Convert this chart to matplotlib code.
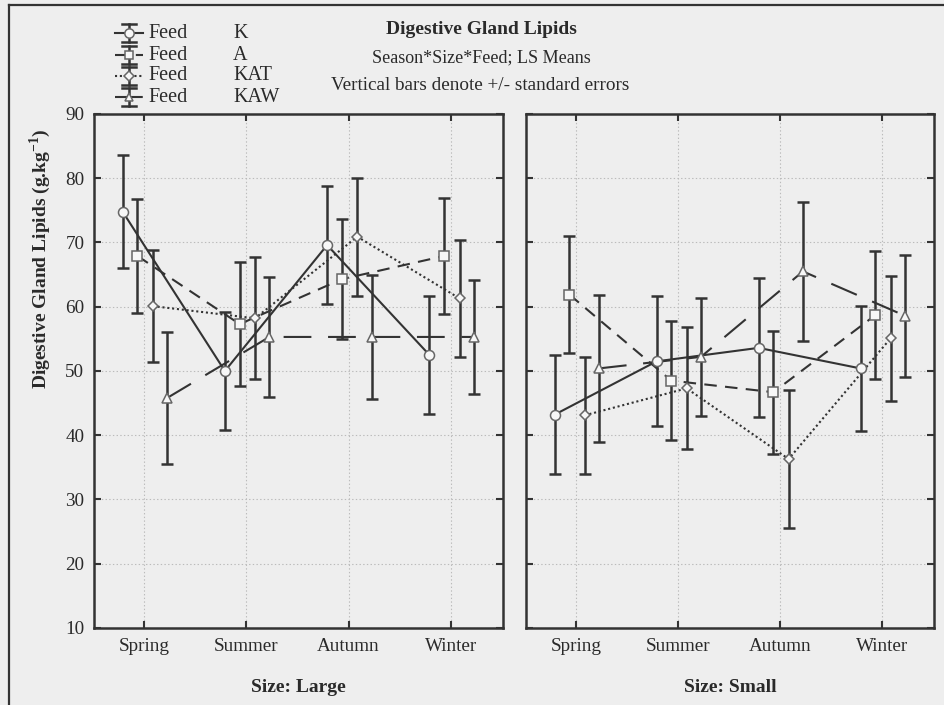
import numpy as np
import matplotlib
matplotlib.use('Agg')
import matplotlib.pyplot as plt

plt.rcParams['font.family'] = ['Liberation Serif', 'DejaVu Serif']
plt.rcParams['mathtext.fontset'] = 'custom'
plt.rcParams['mathtext.rm'] = 'Liberation Serif'
plt.rcParams['mathtext.bf'] = 'Liberation Serif:bold'
plt.rcParams['lines.scale_dashes'] = False

# LS means and standard errors per season, one list per feed
seasons = ['Spring', 'Summer', 'Autumn', 'Winter']
feeds = ['K', 'A', 'KAT', 'KAW']

large_K = [74.8, 50.0, 69.6, 52.5]
large_A = [67.9, 57.3, 64.3, 67.9]
large_KAT = [60.1, 58.2, 70.9, 61.3]
large_KAW = [45.8, 55.3, 55.3, 55.3]
large_K_se = [8.8, 9.2, 9.2, 9.2]
large_A_se = [8.8, 9.6, 9.3, 9.1]
large_KAT_se = [8.7, 9.5, 9.2, 9.1]
large_KAW_se = [10.2, 9.3, 9.6, 8.9]

small_K = [43.2, 51.5, 53.6, 50.4]
small_A = [61.9, 48.5, 46.7, 58.7]
small_KAT = [43.1, 47.3, 36.3, 55.1]
small_KAW = [50.4, 52.2, 65.5, 58.6]
small_K_se = [9.3, 10.1, 10.8, 9.7]
small_A_se = [9.1, 9.3, 9.6, 10.0]
small_KAT_se = [9.1, 9.5, 10.8, 9.7]
small_KAW_se = [11.5, 9.2, 10.8, 9.5]

W, H = 944, 705
bg = '#eeeeee'
ink = '#333333'
txt = '#2a2a2a'

# marker / line style for each feed
offsets = [-0.21, -0.065, 0.085, 0.225]
markers = ['o', 's', 'D', '^']
msizes = [7.2, 6.8, 5.2, 6.8]
dash_styles = [None, (9, 6), (1.5, 2), (20, 12)]

fig = plt.figure(figsize=(W / 100, H / 100), dpi=100)
fig.patch.set_facecolor(bg)


def px_rect(l, t, r, b):
    return [l / W, 1 - b / H, (r - l) / W, (b - t) / H]


def style_line(line, d):
    if d is not None:
        line.set_dashes(d)


def draw_panel(ax, means, errs, show_ylabels):
    ax.set_facecolor(bg)
    for i in range(4):
        x = np.arange(4) + offsets[i]
        ax.errorbar(x, means[i], yerr=errs[i], fmt='none', ecolor=ink,
                    elinewidth=1.8, capsize=4.5, capthick=1.8, zorder=3)
        ln, = ax.plot(x, means[i], color=ink, lw=1.5, zorder=2)
        style_line(ln, dash_styles[i])
        ax.plot(x, means[i], ls='none', marker=markers[i], ms=msizes[i],
                mfc='#f7f7f7', mec='#666666', mew=1.1, zorder=4)
    ax.set_xlim(-0.49, 3.51)
    ax.set_ylim(10, 90)
    ax.set_xticks(range(4))
    ax.set_xticklabels(seasons)
    ax.set_yticks(range(10, 91, 10))
    if not show_ylabels:
        ax.set_yticklabels([])
    ax.tick_params(direction='in', top=True, right=True, length=5, width=1.5,
                   color=ink, labelcolor=txt, labelsize=13.8, pad=7)
    ax.grid(True, ls=':', color='#bbbbbb', lw=0.8)
    for s in ax.spines.values():
        s.set_linewidth(1.8)
        s.set_color(ink)


axL = fig.add_axes(px_rect(94, 114, 503, 628))
draw_panel(axL, [large_K, large_A, large_KAT, large_KAW],
           [large_K_se, large_A_se, large_KAT_se, large_KAW_se], True)
axR = fig.add_axes(px_rect(526, 114, 934, 628))
draw_panel(axR, [small_K, small_A, small_KAT, small_KAW],
           [small_K_se, small_A_se, small_KAT_se, small_KAW_se], False)

# overlay in pixel coordinates for frame, legend and titles
ov = fig.add_axes([0, 0, 1, 1])
ov.set_xlim(0, W)
ov.set_ylim(H, 0)
ov.axis('off')
ov.patch.set_alpha(0)

ov.plot([9, W + 5], [5, 5], color=ink, lw=1.6, clip_on=False)
ov.plot([9, 9], [5, H + 5], color=ink, lw=1.6, clip_on=False)

rows = [33, 55, 76, 97]
x0 = 129
for i, name in enumerate(feeds):
    y = rows[i]
    ov.plot([x0, x0], [y - 9, y + 9], color=ink, lw=1.8)
    ov.plot([x0 - 7, x0 + 7], [y - 9, y - 9], color=ink, lw=1.8)
    ov.plot([x0 - 7, x0 + 7], [y + 9, y + 9], color=ink, lw=1.8)
    ln, = ov.plot([x0 - 14, x0 + 14], [y, y], color=ink, lw=1.5)
    style_line(ln, dash_styles[i])
    ov.plot([x0], [y], ls='none', marker=markers[i], ms=msizes[i] - 0.5,
            mfc='#f7f7f7', mec='#666666', mew=1.1)
    ov.text(148, y, 'Feed', fontsize=14.5, va='center', color=txt)
    ov.text(233, y, name, fontsize=14.5, va='center', color=txt)

ov.text(481, 30, 'Digestive Gland Lipids', fontsize=14, fontweight='bold',
        ha='center', va='center', color=txt)
ov.text(481, 58, 'Season*Size*Feed; LS Means', fontsize=13, ha='center',
        va='center', color=txt)
ov.text(480, 85, 'Vertical bars denote +/- standard errors', fontsize=13.8,
        ha='center', va='center', color=txt)

ov.text(40, 259, r'Digestive Gland Lipids (g.kg$^{\mathbf{-1}}$)', fontsize=14,
        fontweight='bold', rotation=90, ha='center', va='center', color=txt)
ov.text(298, 688, 'Size: Large', fontsize=14, fontweight='bold',
        ha='center', va='center', color=txt)
ov.text(730, 688, 'Size: Small', fontsize=14, fontweight='bold',
        ha='center', va='center', color=txt)

fig.savefig('out.png', dpi=100, facecolor=bg)
